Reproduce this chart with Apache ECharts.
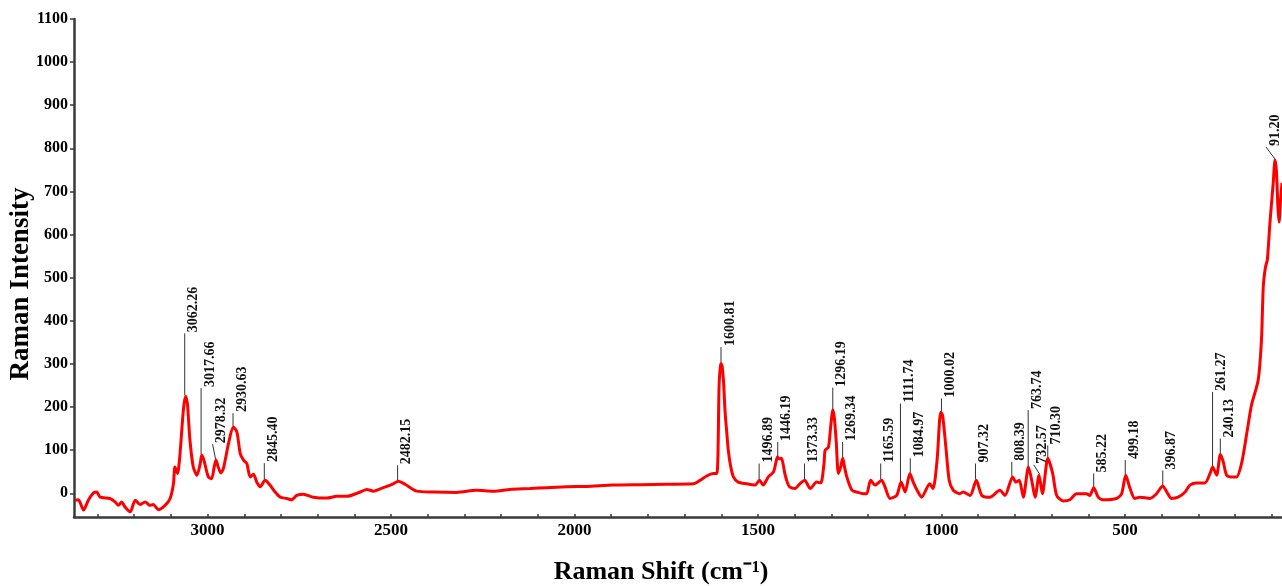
<!DOCTYPE html>
<html>
<head>
<meta charset="utf-8">
<script src="https://cdn.jsdelivr.net/npm/echarts@6/dist/echarts.min.js"></script>
<style>
html,body{margin:0;padding:0;background:#fff;}
#chart{width:1282px;height:586px;}
</style>
</head>
<body>
<div id="chart"></div>
<script>
// Raman spectrum (shift in cm-1, intensity)
const shifts = [3361,3352,3338,3325,3311,3302,3293,3266,3252,3243,3234,3225,3211,3197,3184,3170,3157,3148,3134,3116,3102,3093,3089,3082,3075,3066,3060,3055,3048,3039,3029,3020,3016,3010,2998,2989,2982,2977,2971,2964,2957,2943,2930,2920,2911,2902,2893,2884,2875,2866,2857,2843,2830,2816,2802,2784,2771,2757,2739,2712,2675,2648,2621,2584,2566,2548,2521,2494,2480,2462,2430,2385,2321,2267,2221,2176,2121,2076,2021,1967,1894,1821,1749,1676,1658,1640,1622,1612,1606,1603,1601,1598,1594,1590,1585,1581,1575,1567,1554,1531,1508,1496,1486,1472,1458,1451,1447,1441,1436,1431,1427,1420,1414,1399,1386,1372,1365,1358,1340,1329,1320,1317,1308,1302,1296,1292,1287,1281,1275,1269,1264,1258,1244,1231,1213,1204,1193,1181,1163,1154,1140,1122,1110,1099,1086,1077,1064,1054,1032,1023,1012,1002,997,988,979,968,950,941,922,905,890,868,841,827,806,797,788,777,763,754,745,734,725,710,697,686,668,650,632,605,596,585,573,560,523,509,498,486,473,459,432,414,397,386,373,355,336,323,305,282,268,261,250,240,232,223,209,196,182,168,155,137,128,123,117,112,105,96,91,87,83,80,76,72];
const intensities = [-16,-15,-39,-16,1,3,-9,-12,-20,-28,-20,-32,-43,-16,-26,-20,-28,-26,-38,-28,-12,22,61,46,93,193,225,208,123,61,42,69,88,77,38,34,61,77,61,47,57,115,154,142,92,77,69,38,44,26,15,30,19,3,-9,-12,-15,-5,-2,-9,-11,-7,-7,3,9,5,13,22,28,21,5,3,2,7,5,9,11,13,15,16,19,20,21,22,30,40,46,46,250,290,301,296,260,193,140,100,65,38,26,22,19,30,19,38,49,72,84,80,81,65,46,25,15,11,22,30,20,11,26,24,70,100,107,154,193,175,123,46,60,81,60,38,7,3,-1,-1,30,19,30,15,-12,-5,26,3,46,26,3,-9,22,11,77,188,181,107,30,7,-1,3,-5,30,-5,-9,7,-5,38,26,30,-9,61,30,-9,42,-1,81,46,-5,-18,-15,-1,-1,-5,13,-9,-15,-12,-1,42,11,-12,-9,-12,-1,17,3,-12,-9,3,19,24,24,46,61,42,90,73,42,38,38,70,139,205,262,355,480,525,541,626,719,773,745,660,629,680,720];

// Peak annotations
const peakLabels = ['3062.26','3017.66','2978.32','2930.63','2845.40','2482.15','1600.81','1496.89','1446.19','1373.33','1296.19','1269.34','1165.59','1111.74','1084.97','1000.02','907.32','808.39','763.74','732.57','710.30','585.22','499.18','396.87','261.27','240.13','91.20'];
const peakIntensity = [225,88,77,154,30,28,301,30,84,30,193,81,30,26,46,188,30,38,61,42,81,13,42,17,61,90,773];
const leaderTop = [371,244,114,186,70,65,339,69,119,69,245,119,69,208,81,220,69,73,193,66,111,46,77,53,235,127,803];
// shift (cm-1) of the leader's upper end relative to the peak
const leaderShift = [0,0,8,0,0,0,0,0,0,0,0,0,0,0,0,0,0,0,0,16,0,0,0,0,0,0,0];

const yTicks = [0,100,200,300,400,500,600,700,800,900,1000,1100];
const xLabelTicks = [500,1000,1500,2000,2500,3000];
const xMinorTicks = [];
for (let v = 100; v <= 3300; v += 100) xMinorTicks.push(v);

const spectrum = shifts.map((s, i) => [s, intensities[i]]);
const peaks = peakLabels.map((l, i) => [parseFloat(l), peakIntensity[i], leaderTop[i], i, parseFloat(l) + leaderShift[i]]);

const serif = '"Liberation Serif","Times New Roman",serif';
const axisColor = '#3a3a3a';

const chart = echarts.init(document.getElementById('chart'), null, {renderer: 'canvas'});
chart.setOption({
  animation: false,
  backgroundColor: '#ffffff',
  grid: {left: 74, right: 0, top: 19, bottom: 69, containLabel: false, outerBoundsMode: 'none'},
  xAxis: {
    type: 'value',
    inverse: true,
    min: 72,
    max: 3364,
    name: 'Raman Shift (cm\u207B\u00B9)',
    nameLocation: 'middle',
    nameGap: 42,
    nameMoveOverlap: false,
    nameTextStyle: {fontFamily: serif, fontWeight: 'bold', fontSize: 26, color: '#000', padding: [0, 34, 0, 0]},
    axisLine: {show: true, onZero: false, lineStyle: {color: axisColor, width: 2.5}},
    axisTick: {show: true, inside: true, length: 3, customValues: xMinorTicks, lineStyle: {color: axisColor, width: 1.5}},
    axisLabel: {customValues: xLabelTicks, formatter: v => String(v), fontFamily: serif, fontWeight: 'bold', fontSize: 17, color: '#000', margin: 5},
    splitLine: {show: false}
  },
  yAxis: {
    type: 'value',
    min: -55,
    max: 1100,
    name: 'Raman Intensity',
    nameLocation: 'middle',
    nameGap: 39,
    nameRotate: 90,
    nameMoveOverlap: false,
    nameTextStyle: {fontFamily: serif, fontWeight: 'bold', fontSize: 27, color: '#000', padding: [0, 32, 0, 0]},
    axisLine: {show: true, onZero: false, lineStyle: {color: axisColor, width: 2.5}},
    axisTick: {show: true, inside: false, length: 4, customValues: yTicks, lineStyle: {color: axisColor, width: 1.5}},
    axisLabel: {customValues: yTicks, formatter: v => String(v), fontFamily: serif, fontWeight: 'bold', fontSize: 16, color: '#000', margin: 6},
    splitLine: {show: false}
  },
  series: [
    {
      type: 'line',
      data: spectrum,
      showSymbol: false,
      smooth: 0.25,
      lineStyle: {color: '#ff0000', width: 3},
      z: 2
    },
    {
      type: 'custom',
      data: peaks,
      z: 3,
      renderItem: function (params, api) {
        const x = api.value(0);
        const p0 = api.coord([x, api.value(1)]);
        const p1 = api.coord([api.value(4), api.value(2)]);
        const W = api.getWidth();
        const tx = Math.min(p1[0] + 9, W - 7);
        const lx = tx - 9;
        const idx = api.value(3);
        return {
          type: 'group',
          children: [
            {type: 'line', shape: {x1: p0[0], y1: p0[1] - 1, x2: lx, y2: p1[1]}, style: {stroke: '#333', lineWidth: 1}},
            {type: 'text', x: tx, y: p1[1] - 1, rotation: Math.PI / 2,
              style: {text: peakLabels[idx], font: 'bold 14px ' + serif, fill: '#111', align: 'left', verticalAlign: 'middle'}}
          ]
        };
      }
    }
  ]
});
</script>
</body>
</html>
